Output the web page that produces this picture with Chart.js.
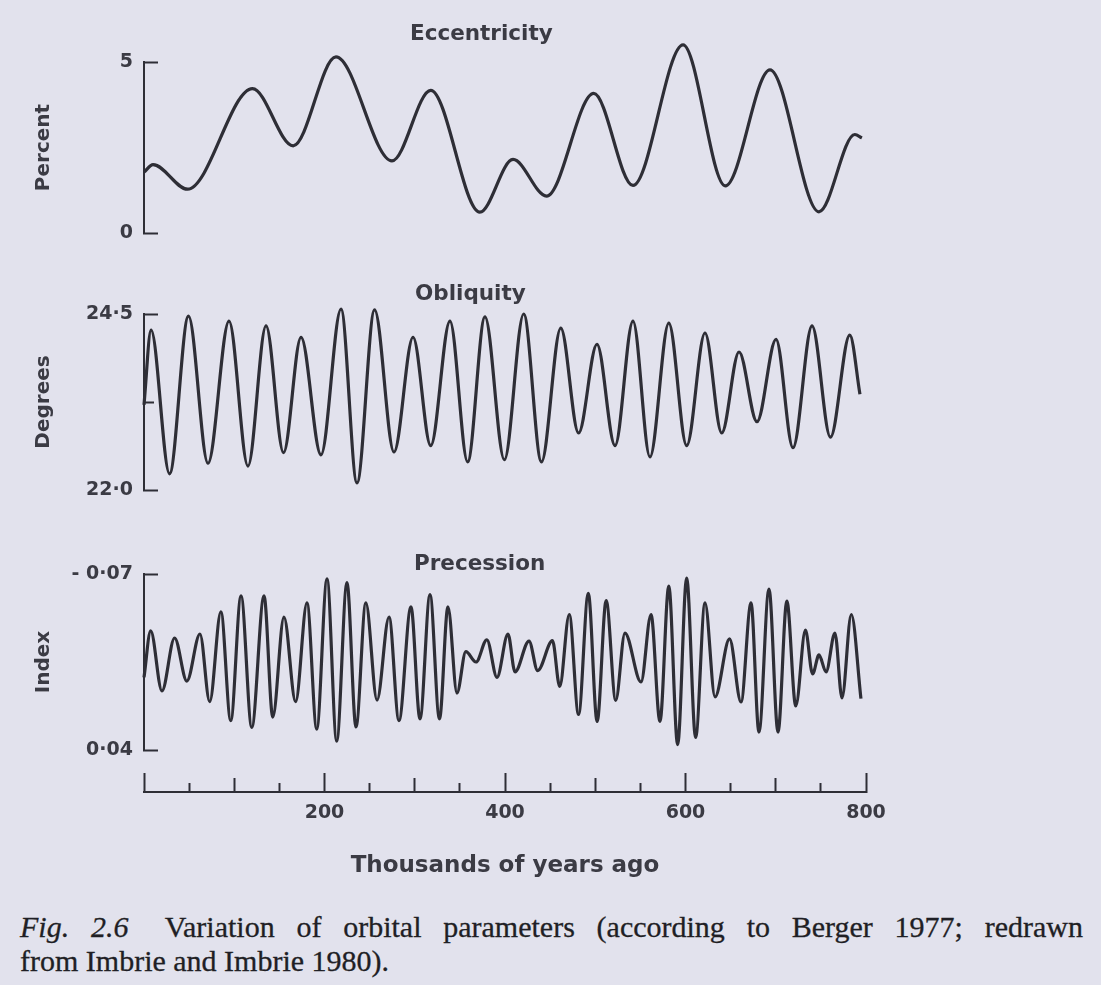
<!DOCTYPE html>
<html>
<head>
<meta charset="utf-8">
<script src="https://cdn.jsdelivr.net/npm/chart.js@4.4.1/dist/chart.umd.min.js"></script>
<style>
  html, body { margin: 0; padding: 0; background: #e2e2ed; width: 1101px; height: 985px; overflow: hidden; }
  #wrap { position: relative; width: 1101px; height: 985px; }
  #c { position: absolute; left: 0; top: 0; }
  .ptitle { position: absolute; font-family: "DejaVu Sans"; font-weight: bold; font-size: 21.5px; line-height: 22px; color: #3b3b44; white-space: nowrap; }
  .cap { position: absolute; left: 20px; width: 1063px; font-family: "Liberation Serif"; font-size: 30px; line-height: 34px; color: #1f1f25; white-space: nowrap; -webkit-text-stroke: 0.3px #1f1f25; }
  #cap1 { top: 910px; text-align: justify; text-align-last: justify; }
  #cap2 { top: 944px; text-align: left; }
</style>
</head>
<body>
<div id="wrap">
  <canvas id="c" width="1101" height="900"></canvas>
  <div class="cap" id="cap1"><i>Fig. 2.6</i>&ensp; Variation of orbital parameters (according to Berger 1977; redrawn</div>
  <div class="cap" id="cap2">from Imbrie and Imbrie 1980).</div>
</div>
<script>
// ---------------- data (thousands of years ago) ----------------
const eccAge   = [0, 10, 48.3, 120.2, 165.3, 212.7, 274.8, 317.7, 372.1, 408.9, 446.0, 498.3, 541.8, 597.3, 644.1, 693.6, 747.9, 787.6, 795.5];
const eccValue = [1.78, 2.0, 1.28, 4.22, 2.55, 5.15, 2.11, 4.17, 0.61, 2.15, 1.08, 4.08, 1.39, 5.5, 1.38, 4.77, 0.62, 2.88, 2.78];

const oblAge   = [0, 7.8, 28.3, 49.3, 70.9, 94.2, 115.2, 135.2, 154.6, 174.0, 196.1, 218.3, 236.0, 255.5, 277.0, 298.1, 317.7, 339.0, 358.6, 377.8, 399.3, 420.7, 440.4, 461.8, 481.5, 501.9, 521.9, 541.8, 560.6, 581.5, 601.3, 621.6, 640.1, 659.3, 679.2, 700.3, 719.1, 740.2, 760.6, 782.0, 793.3];
const oblValue = [23.21, 24.27, 22.23, 24.47, 22.38, 24.40, 22.34, 24.33, 22.53, 24.17, 22.50, 24.57, 22.10, 24.56, 22.54, 24.17, 22.63, 24.40, 22.40, 24.46, 22.43, 24.50, 22.40, 24.30, 22.81, 24.07, 22.63, 24.40, 22.47, 24.37, 22.63, 24.23, 22.81, 23.96, 22.97, 24.14, 22.60, 24.33, 22.75, 24.20, 23.36];

const preAge   = [0, 7.4, 19.9, 33.9, 47.5, 62.0, 72.8, 85.2, 96.1, 107.5, 119.4, 133.0, 142.7, 155.1, 168.0, 180.6, 191.4, 202.8, 213.5, 224.9, 234.9, 245.8, 258.2, 271.5, 282.5, 295.8, 305.8, 316.9, 327.4, 336.8, 346.8, 356.6, 367.9, 379.9, 391.1, 403.3, 411.1, 426.6, 436.2, 452.6, 460.6, 471.2, 481.5, 492.3, 502.1, 512.1, 522.7, 532.9, 550.7, 561.8, 571.7, 581.5, 591.3, 601.3, 611.2, 621.6, 632.7, 648.8, 661.5, 672.6, 681.4, 692.5, 702.5, 712.3, 722.2, 732.9, 740.8, 747.9, 755.7, 765.6, 773.4, 783.7, 794.4];
const preValue = [-0.0054, -0.0344, 0.0031, -0.0300, -0.0031, -0.0325, 0.0098, -0.0463, 0.0216, -0.0563, 0.0259, -0.0563, 0.0194, -0.0431, 0.0098, -0.0519, 0.0269, -0.0669, 0.0344, -0.0646, 0.0256, -0.0519, 0.0088, -0.0431, 0.0216, -0.0495, 0.0206, -0.0571, 0.0206, -0.0495, 0.0044, -0.0215, -0.0150, -0.0289, -0.0054, -0.0325, -0.0088, -0.0281, -0.0096, -0.0283, 0.0003, -0.0447, 0.0178, -0.0579, 0.0222, -0.0534, 0.0090, -0.0331, -0.0025, -0.0447, 0.0222, -0.0625, 0.0366, -0.0675, 0.0322, -0.0519, 0.0068, -0.0294, 0.0100, -0.0519, 0.0288, -0.0606, 0.0288, -0.0531, 0.0125, -0.0350, -0.0075, -0.0194, -0.0088, -0.0331, 0.0075, -0.0447, 0.0079];

// ---------------- ticks & labels ----------------
const xTickValues   = [0, 50, 100, 150, 200, 250, 300, 350, 400, 450, 500, 550, 600, 650, 700, 750, 800];
const xLabelValues  = [200, 400, 600, 800];
const xLabelTexts   = ['200', '400', '600', '800'];
const xTitle        = 'Thousands of years ago';

const eccTicks = [0, 5];            const eccTickLabels = ['0', '5'];
const oblTicks = [22, 23.25, 24.5]; const oblTickLabels = ['22·0', '', '24·5'];
const preTicks = [-0.07, 0.04];     const preTickLabels = ['- 0·07', '0·04'];

const panelTitles = ['Eccentricity', 'Obliquity', 'Precession'];
const axisTitles  = ['Percent', 'Degrees', 'Index'];

// ---------------- styling ----------------
const INK  = '#2e2e36';
const TXT  = '#3b3b44';
const FONT = 'DejaVu Sans';

const titlePos = [[410, 22], [415, 282], [414, 552]];
panelTitles.forEach((t, i) => {
  const d = document.createElement('div');
  d.className = 'ptitle';
  d.textContent = t;
  d.style.left = titlePos[i][0] + 'px';
  d.style.top = titlePos[i][1] + 'px';
  document.getElementById('wrap').appendChild(d);
});

function panelAxis(opts) {
  return {
    type: 'linear', position: 'left', stack: 'panels',
    stackWeight: opts.sw, weight: opts.w,
    min: opts.min, max: opts.max, reverse: !!opts.reverse,
    afterBuildTicks: s => { s.ticks = opts.ticks.map(v => ({ value: v })); },
    afterFit: s => { s.width = 144; },
    ticks: {
      autoSkip: false, color: TXT, padding: 25,
      font: { family: FONT, size: 19, weight: 'bold' },
      callback: (v, i) => opts.labels[i]
    },
    grid: {
      drawOnChartArea: false, tickLength: -14, tickWidth: 2, tickColor: INK,
      tickBorderDash: ctx => (opts.midIndex !== undefined && ctx.index === opts.midIndex) ? [0, 4, 10, 40] : []
    },
    border: { display: true, color: INK, width: 2 },
    title: { display: true, text: opts.title, color: TXT, font: { family: FONT, size: 20, weight: 'bold' }, padding: { top: 32, bottom: 0 } }
  };
}

function series(ages, vals, axis) {
  return {
    data: ages.map((a, i) => ({ x: a, y: vals[i] })),
    yAxisID: axis,
    borderColor: INK, borderWidth: 3.2, pointRadius: 0,
    cubicInterpolationMode: 'monotone', fill: false, clip: false
  };
}

new Chart(document.getElementById('c'), {
  type: 'line',
  data: {
    datasets: [
      series(eccAge, eccValue, 'yEcc'),
      series(oblAge, oblValue, 'yObl'),
      series(preAge, preValue, 'yPre')
    ]
  },
  options: {
    responsive: false, animation: false, devicePixelRatio: 1,
    layout: { padding: { left: 0, top: 62, right: 235, bottom: 0 } },
    plugins: { legend: { display: false }, tooltip: { enabled: false } },
    scales: {
      x: {
        type: 'linear', position: 'bottom', min: 0, max: 800,
        afterBuildTicks: s => { s.ticks = xTickValues.map(v => ({ value: v })); },
        afterFit: s => { s.height = 108; },
        ticks: {
          autoSkip: false, maxRotation: 0, color: TXT, padding: 29,
          font: { family: FONT, size: 19, weight: 'bold' },
          callback: v => { const k = xLabelValues.indexOf(v); return k >= 0 ? xLabelTexts[k] : ''; }
        },
        grid: {
          drawOnChartArea: false, tickLength: -19, tickWidth: 2, tickColor: INK,
          tickBorderDash: ctx => {
            const v = ctx.tick ? ctx.tick.value : 0;
            if (v % 200 === 0) return [];
            if (v % 100 === 0) return [15, 40];
            return [10, 40];
          }
        },
        border: { display: true, color: INK, width: 2 },
        title: { display: true, text: xTitle, color: TXT, font: { family: FONT, size: 23, weight: 'bold' }, padding: { top: 0, bottom: 20 } }
      },
      yEcc:  panelAxis({ sw: 171, w: 6, min: 0, max: 5, ticks: eccTicks, labels: eccTickLabels, title: axisTitles[0] }),
      yGap1: { type: 'linear', position: 'left', stack: 'panels', stackWeight: 81, weight: 5, display: false },
      yObl:  panelAxis({ sw: 176, w: 4, min: 22, max: 24.5, ticks: oblTicks, labels: oblTickLabels, title: axisTitles[1], midIndex: 1 }),
      yGap2: { type: 'linear', position: 'left', stack: 'panels', stackWeight: 84, weight: 3, display: false },
      yPre:  panelAxis({ sw: 176, w: 2, min: -0.07, max: 0.04, reverse: true, ticks: preTicks, labels: preTickLabels, title: axisTitles[2] }),
      yGap3: { type: 'linear', position: 'left', stack: 'panels', stackWeight: 42, weight: 1, display: false }
    }
  }
});
</script>
</body>
</html>
